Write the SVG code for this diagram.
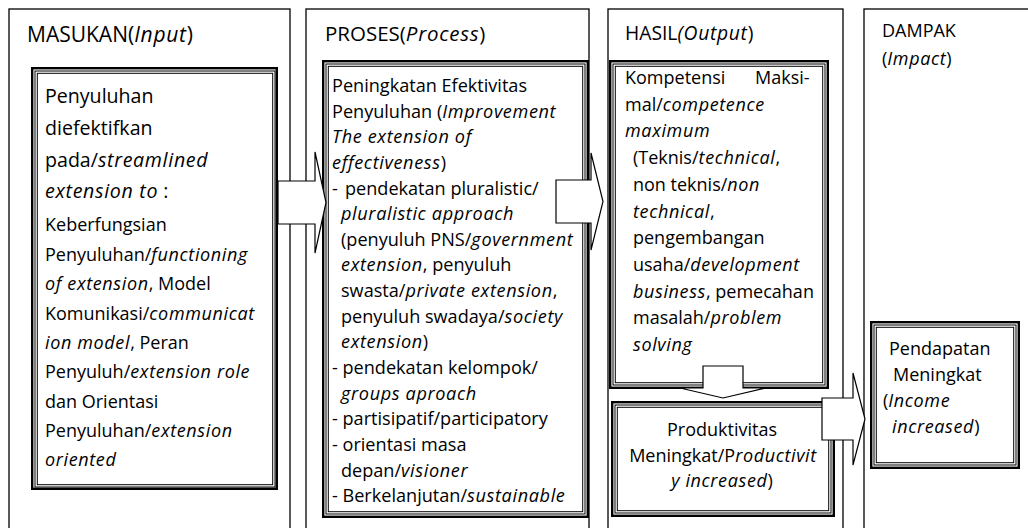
<svg xmlns="http://www.w3.org/2000/svg" width="1028" height="528" viewBox="0 0 1028 528">
<style>
.t{font-family:"Open Sans","Liberation Sans",sans-serif;fill:#000}
.i{font-style:italic;letter-spacing:0.035em}
.s{font-size:18px}
.L{font-size:19.6px}
.p{font-size:18.1px}
.col{fill:none;stroke:#000;stroke-width:1.3}
.bo{fill:none;stroke:#000;stroke-width:2.4}
.bi{fill:none;stroke:#000;stroke-width:1}
.ar{fill:#fff;stroke:#000;stroke-width:1.2;stroke-linejoin:miter}
</style>
<rect width="1028" height="528" fill="#fff"/>

<g id="col-masukan">
<rect class="col" x="9" y="9" width="281" height="540"/>
<text class="t" x="27" y="42" style="font-size:21px">MASUKAN(<tspan class="i">Input</tspan>)</text>
</g>
<g id="col-proses">
<rect class="col" x="306" y="9" width="283" height="540"/>
<text class="t" x="325" y="41" style="font-size:20.5px">PROSES(<tspan class="i">Process</tspan>)</text>
</g>
<g id="col-hasil">
<rect class="col" x="608" y="9" width="235" height="540"/>
<text class="t" x="625" y="40" style="font-size:19.3px">HASIL<tspan class="i">(Output</tspan>)</text>
</g>
<g id="col-dampak">
<rect class="col" x="864" y="9" width="200" height="540"/>
<text class="t" x="882" y="37" style="font-size:18px">DAMPAK</text>
<text class="t" x="882" y="65" style="font-size:18px">(<tspan class="i">Impact</tspan>)</text>
</g>

<g id="node-input">
<rect class="bo" x="32.2" y="68.2" width="244.6" height="420.6"/>
<rect class="bi" x="35" y="71" width="240" height="416"/>
<rect class="bi" x="37.3" y="73.3" width="235.4" height="411.4"/>
<text class="t L" x="45" y="103">Penyuluhan</text>
<text class="t L" x="45" y="135">diefektifkan</text>
<text class="t L" x="45" y="167">pada/<tspan class="i">streamlined</tspan></text>
<text class="t L" x="45" y="198"><tspan class="i">extension to</tspan> :</text>
<text class="t s" x="45" y="231">Keberfungsian</text>
<text class="t s" x="45" y="261">Penyuluhan/<tspan class="i">functioning</tspan></text>
<text class="t s" x="45" y="290"><tspan class="i">of extension</tspan>, Model</text>
<text class="t s" x="45" y="320">Komunikasi/<tspan class="i">communicat</tspan></text>
<text class="t s" x="45" y="349"><tspan class="i">ion model</tspan>, Peran</text>
<text class="t s" x="45" y="378">Penyuluh/<tspan class="i">extension role</tspan></text>
<text class="t s" x="45" y="408">dan Orientasi</text>
<text class="t s" x="45" y="437">Penyuluhan/<tspan class="i">extension</tspan></text>
<text class="t s" x="45" y="466"><tspan class="i">oriented</tspan></text>
</g>

<g id="node-process">
<rect class="bo" x="323.2" y="61.2" width="264.6" height="455.6"/>
<rect class="bi" x="326" y="64" width="259" height="450"/>
<rect class="bi" x="328.3" y="66.3" width="254.4" height="445.4"/>
<text class="t p" x="332" y="92">Peningkatan Efektivitas</text>
<text class="t p" x="332" y="117.6">Penyuluhan (<tspan class="i">Improvement</tspan></text>
<text class="t p i" x="332" y="143.3">The extension of</text>
<text class="t p" x="332" y="168.9"><tspan class="i">effectiveness</tspan>)</text>
<text class="t p" x="332" y="194.5">-<tspan x="345">pendekatan pluralistic/</tspan></text>
<text class="t p i" x="341" y="220.2">pluralistic approach</text>
<text class="t p" x="341" y="245.8">(penyuluh PNS/<tspan class="i">government</tspan></text>
<text class="t p" x="341" y="271.4"><tspan class="i">extension</tspan>, penyuluh</text>
<text class="t p" x="341" y="297">swasta/<tspan class="i">private extension</tspan>,</text>
<text class="t p" x="341" y="322.7">penyuluh swadaya/<tspan class="i">society</tspan></text>
<text class="t p" x="341" y="348.3"><tspan class="i">extension</tspan>)</text>
<text class="t p" x="332" y="373.9">- pendekatan kelompok/</text>
<text class="t p i" x="341" y="399.6">groups aproach</text>
<text class="t p" x="332" y="425.2">- partisipatif/participatory</text>
<text class="t p" x="332" y="450.8">- orientasi masa</text>
<text class="t p" x="341" y="476.5">depan/<tspan class="i">visioner</tspan></text>
<text class="t p" x="332" y="502">- Berkelanjutan/<tspan class="i">sustainable</tspan></text>
</g>

<g id="node-competence">
<rect class="bo" x="610.2" y="61.2" width="217.6" height="326.6"/>
<rect class="bi" x="613" y="64" width="212" height="321"/>
<rect class="bi" x="615.3" y="66.3" width="207.4" height="316.4"/>
<text class="t s" x="625" y="84">Kompetensi<tspan x="755">Maksi-</tspan></text>
<text class="t s" x="625" y="110.7">mal/<tspan class="i">competence</tspan></text>
<text class="t s i" x="625" y="137.4">maximum</text>
<text class="t s" x="633" y="164.1">(Teknis/<tspan class="i">technical</tspan>,</text>
<text class="t s" x="633" y="190.8">non teknis/<tspan class="i">non</tspan></text>
<text class="t s" x="633" y="217.5"><tspan class="i">technical</tspan>,</text>
<text class="t s" x="633" y="244.2">pengembangan</text>
<text class="t s" x="633" y="270.9">usaha/<tspan class="i">development</tspan></text>
<text class="t s" x="633" y="297.6"><tspan class="i">business</tspan>, pemecahan</text>
<text class="t s" x="633" y="324.3">masalah/<tspan class="i">problem</tspan></text>
<text class="t s i" x="633" y="351">solving</text>
</g>

<g id="node-productivity">
<rect class="bo" x="612.2" y="402.2" width="221.6" height="113.6"/>
<rect class="bi" x="615" y="405" width="216" height="108"/>
<rect class="bi" x="617.3" y="407.3" width="211.4" height="103.4"/>
<text class="t s" x="722" y="436" text-anchor="middle">Produktivitas</text>
<text class="t s" x="723" y="461.5" text-anchor="middle">Meningkat/P<tspan class="i">roductivit</tspan></text>
<text class="t s" x="722" y="487" text-anchor="middle"><tspan class="i">y increased</tspan>)</text>
</g>

<g id="node-income">
<rect class="bo" x="871.2" y="322.2" width="147.6" height="145.6"/>
<rect class="bi" x="874" y="325" width="142" height="140"/>
<rect class="bi" x="876.3" y="327.3" width="137.4" height="135.4"/>
<text class="t s" x="889" y="355">Pendapatan</text>
<text class="t s" x="893" y="381">Meningkat</text>
<text class="t s" x="883" y="407">(<tspan class="i">Income</tspan></text>
<text class="t s" x="892" y="433"><tspan class="i">increased</tspan>)</text>
</g>

<g id="connectors">
<polygon class="ar" points="278,181 315,181 315,152 326,202.5 315,253 315,224 278,224"/>
<polygon class="ar" points="556,180 591,180 591,153 603,201.5 591,250 591,223 556,223"/>
<polygon class="ar" points="703,366 743,366 743,388 766,388 723,398 680,388 703,388"/>
<polygon class="ar" points="822,398 853,398 853,373 865,419 853,465 853,440 822,440"/>
</g>
</svg>
